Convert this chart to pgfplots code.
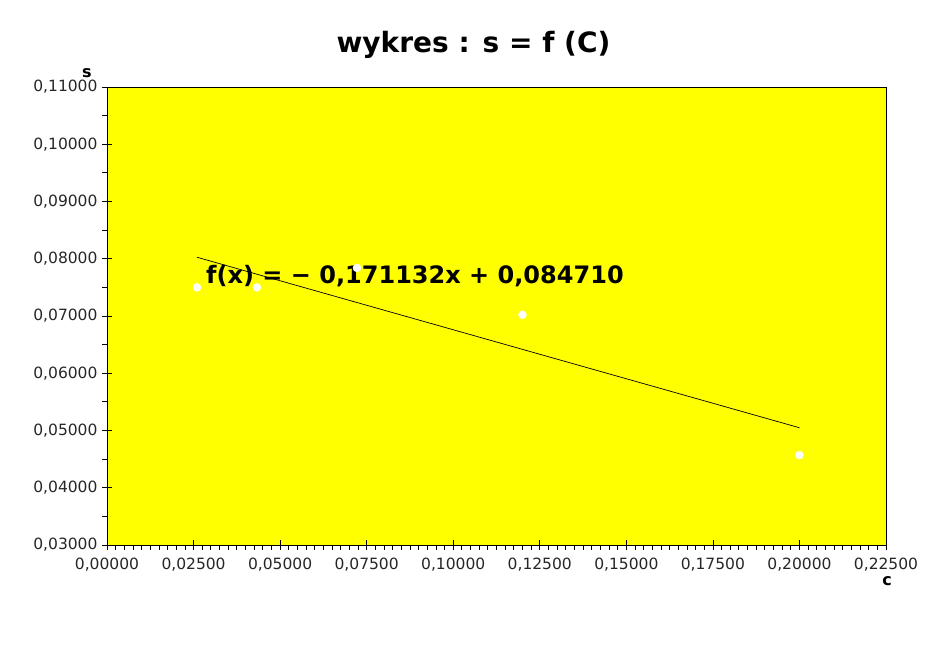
\documentclass[border=0pt]{standalone}
\usepackage{pgfplots}
\pgfplotsset{compat=1.18}
\usepackage{fontspec}
\setmainfont{DejaVu Sans}
\definecolor{bgyellow}{RGB}{255,255,0}
\begin{document}
\begin{tikzpicture}[x=1bp,y=1bp]
\path[use as bounding box] (-107,-102) rectangle (840,545);
\begin{axis}[
  at={(0,0)}, anchor=south west,
  scale only axis, width=779bp, height=458bp,
  xmin=0, xmax=0.225, ymin=0.03, ymax=0.11,
  axis background/.style={fill=bgyellow},
  axis line style={black, line width=0.8bp},
  xtick={0,0.025,...,0.2251}, ytick={0.03,0.04,...,0.1101},
  minor x tick num=9, minor y tick num=1,
  tick pos=left,
  tick align=center,
  major tick length=10bp, minor tick length=5bp,
  every tick/.style={black, line width=0.8bp},
  minor x tick style={yshift=-2.5bp},
  minor y tick style={xshift=-2.5bp},
  /pgf/number format/assume math mode=true,
  /pgf/number format/.cd, fixed, fixed zerofill, precision=5, use comma,
  /pgfplots/.cd,
  scaled ticks=false,
  ticklabel style={font=\fontsize{15.5bp}{18bp}\selectfont, text=black!85},
  xticklabel style={yshift=-4bp},
  yticklabel style={xshift=-1bp},
  clip=false,
]
\addplot[black, line width=0.7bp] coordinates {(0.026,0.08026) (0.2,0.05048)};
\addplot[only marks, mark=*, mark size=4bp, mark options={fill=white, draw=white}]
  coordinates {(0.026,0.0750) (0.0433,0.0750) (0.0722,0.0784) (0.12,0.0702) (0.2,0.0457)};
\node[anchor=base west, inner sep=0, font=\fontsize{24bp}{29bp}\selectfont\bfseries]
  at (axis cs:0.02859,0.07559) {f(x) = − 0,171132x + 0,084710};
\end{axis}
\node[anchor=base, inner sep=0, font=\fontsize{28bp}{33bp}\selectfont\bfseries] at (366.5,492) {wykres : s = f (C)};
\node[anchor=center, inner sep=0, font=\fontsize{16bp}{19bp}\selectfont\bfseries] at (-20,472) {s};
\node[anchor=center, inner sep=0, font=\fontsize{16bp}{19bp}\selectfont\bfseries] at (780,-36) {c};
\end{tikzpicture}
\end{document}
